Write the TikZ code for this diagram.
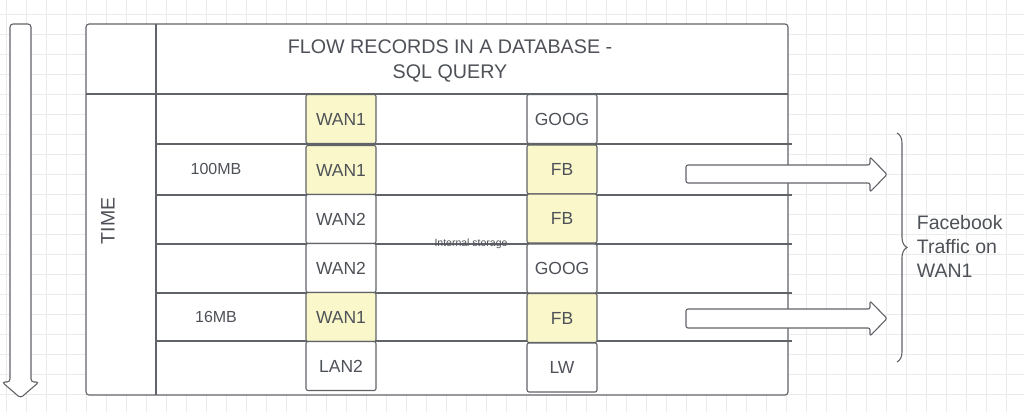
\documentclass[tikz,border=0pt]{standalone}
\usepackage{fontspec}
\setmainfont{Liberation Sans}
\usetikzlibrary{decorations.pathreplacing}
\definecolor{gridc}{HTML}{EBEBEB}
\definecolor{linec}{HTML}{606368}
\definecolor{textc}{HTML}{4E5258}
\definecolor{hilite}{HTML}{FAF8CA}

\begin{document}
\begin{tikzpicture}[x=1pt,y=-1pt,line width=1.1pt,
    cell/.style={draw=linec,fill=white,rounded corners=2pt,minimum width=70pt,minimum height=49pt,inner sep=0pt,text=textc,font=\fontsize{17.5}{20}\selectfont},
    fbcell/.style={cell,fill=hilite},
    lbl/.style={text=textc,font=\fontsize{16}{19}\selectfont},
    blockarrow/.style={draw=linec,fill=white,rounded corners=2pt}]
            \useasboundingbox (0,0) rectangle (1024,412);
            \fill[white] (0,0) rectangle (1024,412);
            % background grid
            \foreach \gx in {6,26,...,1006} \draw[gridc,line width=0.8pt] (\gx,0)--(\gx,412);
            \foreach \gy in {14,34,...,394} \draw[gridc,line width=0.8pt] (0,\gy)--(1024,\gy);
            % time arrow
            \draw[blockarrow,rounded corners=3pt] (31,382)--(31,24)--(10,24)--(10,382)--(2,382)--(20.5,398)--(39,382)--cycle;
            % table
            \draw[linec,fill=white,rounded corners=3pt] (86,24) rectangle (788,395);
            \draw[linec] (156,24)--(156,395);
            \draw[linec] (86,94)--(788,94);
            \foreach \ry in {144,195,244,293,341} \draw[linec] (156,\ry)--(792,\ry);
            \node[lbl,font=\fontsize{19.7}{24.5}\selectfont,align=center] (title) at (450,61) {FLOW RECORDS IN A DATABASE -\\SQL QUERY};
            \node[lbl,font=\fontsize{19.5}{22}\selectfont,rotate=90] (time) at (108,221) {TIME};
            \node[lbl] (size1) at (216,169) {100MB};
            \node[lbl] (size2) at (216,317) {16MB};
            \node[text=textc,font=\fontsize{10.5}{12}\selectfont] (store) at (471,244) {Internal storage};
            % interface column
            \node[fbcell] (src1) at (341,119) {WAN1};
            \node[fbcell] (src2) at (341,170) {WAN1};
            \node[cell] (src3) at (341,219) {WAN2};
            \node[cell] (src4) at (341,268) {WAN2};
            \node[fbcell] (src5) at (341,317) {WAN1};
            \node[cell] (src6) at (341,366) {LAN2};
            % application column
            \node[cell] (app1) at (562,119) {GOOG};
            \node[fbcell] (app2) at (562,169.5) {FB};
            \node[fbcell] (app3) at (562,218.5) {FB};
            \node[cell] (app4) at (562,268.5) {GOOG};
            \node[fbcell] (app5) at (562,318) {FB};
            \node[cell] (app6) at (562,367.5) {LW};
            % result arrows
            \draw[blockarrow] (686,165)--(870,165)--(870,157)--(887,174.5)--(870,192)--(870,183)--(686,183)--cycle;
            \draw[blockarrow] (686,309)--(870,309)--(870,301)--(887,318.5)--(870,336)--(870,328)--(686,328)--cycle;
            \draw[linec,decorate,decoration={brace,amplitude=10pt}] (897,133)--(897,362);
            \node[lbl,font=\fontsize{19.5}{24}\selectfont,align=left,anchor=west] (result) at (913,246) {Facebook\\Traffic on\\WAN1};
        \end{tikzpicture}
\end{document}
